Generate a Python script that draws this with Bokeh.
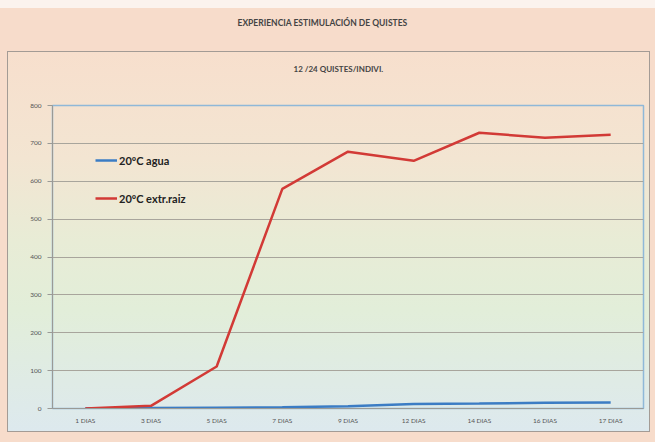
from bokeh.plotting import figure
from bokeh.models import Range1d, Title, Legend, LegendItem, FixedTicker
from bokeh.embed import file_html
from bokeh.resources import INLINE

# ---- data ----
dias = ["1 DIAS", "3 DIAS", "5 DIAS", "7 DIAS", "9 DIAS", "12 DIAS", "14 DIAS", "16 DIAS", "17 DIAS"]
agua = [0, 1, 2, 3, 6, 12, 13, 15, 16]
extr_raiz = [0, 7, 111, 580, 678, 654, 728, 715, 723]
y_ticks = [0, 100, 200, 300, 400, 500, 600, 700, 800]
titulo = "EXPERIENCIA ESTIMULACIÓN DE QUISTES"
subtitulo = "12 /24 QUISTES/INDIVI."
serie_agua = "20ºC agua"
serie_raiz = "20ºC extr.raiz"

FONT = "Lato"

p = figure(width=655, height=442, x_range=dias, y_range=Range1d(0, 800),
           output_backend="svg", toolbar_location=None,
           min_border_left=52, min_border_right=12, min_border_top=105, min_border_bottom=34)

p.styles = {
    "background": (
        "linear-gradient(to bottom, #f7dfcd 0%, #f3e5d2 28%, #e8ecd6 50%, #e2eed9 68%, #dde9ee 100%) 8px 52px / 641px 379px no-repeat, "
        "linear-gradient(#a39b95, #a39b95) 7px 51px / 643px 381px no-repeat, "
        "linear-gradient(#fbf3ee, #fbf3ee) 0px 0px / 655px 8px no-repeat, "
        "#f7dccb"
    )
}
p.border_fill_alpha = 0
p.background_fill_alpha = 0
p.outline_line_color = "#8fb8d8"
p.outline_line_width = 1.5

r_agua = p.line(dias, agua, line_color="#3b7cc4", line_width=2.5)
r_raiz = p.line(dias, extr_raiz, line_color="#d23a36", line_width=2.5)

# axes
p.yaxis.ticker = FixedTicker(ticks=y_ticks)
for ax in (p.xaxis[0], p.yaxis[0]):
    ax.major_label_text_font = FONT
    ax.major_label_text_font_size = "6.5px"
    ax.major_label_text_color = "#555555"
    ax.axis_line_color = "#9a9a96"
    ax.minor_tick_line_color = None
p.yaxis.major_tick_out = 5
p.yaxis.major_tick_in = 0
p.yaxis.major_tick_line_color = "#9a9a96"
p.xaxis.major_tick_line_color = None
p.xaxis.major_label_standoff = 2
p.yaxis.major_label_standoff = 6

p.xgrid.grid_line_color = None
p.ygrid.grid_line_color = "#a8a59c"
p.ygrid.grid_line_width = 1

# titles (p.title is the outer one)
p.title.text = titulo
p.title.align = "left"
p.title.offset = 185
p.title.text_font = FONT
p.title.text_font_size = "8.5px"
p.title.text_font_style = "bold"
p.title.text_color = "#444444"
p.title.standoff = 4
sub = Title(text=subtitulo, align="left", offset=241, text_font=FONT, text_font_size="8px",
            text_font_style="bold", text_color="#444444", standoff=64)
p.add_layout(sub, "above")

# legend
legend = Legend(items=[LegendItem(label=serie_agua, renderers=[r_agua]),
                       LegendItem(label=serie_raiz, renderers=[r_raiz])],
                location=(43, 200), orientation="vertical")
legend.background_fill_alpha = 0
legend.border_line_color = None
legend.padding = 0
legend.margin = 0
legend.spacing = 18
legend.label_height = 20
legend.glyph_height = 20
legend.glyph_width = 22
legend.label_standoff = 2
legend.label_text_font = FONT
legend.label_text_font_size = "11px"
legend.label_text_font_style = "bold"
legend.label_text_color = "#222222"
p.add_layout(legend, "center")

open("out.html", "w").write(file_html(p, INLINE))
